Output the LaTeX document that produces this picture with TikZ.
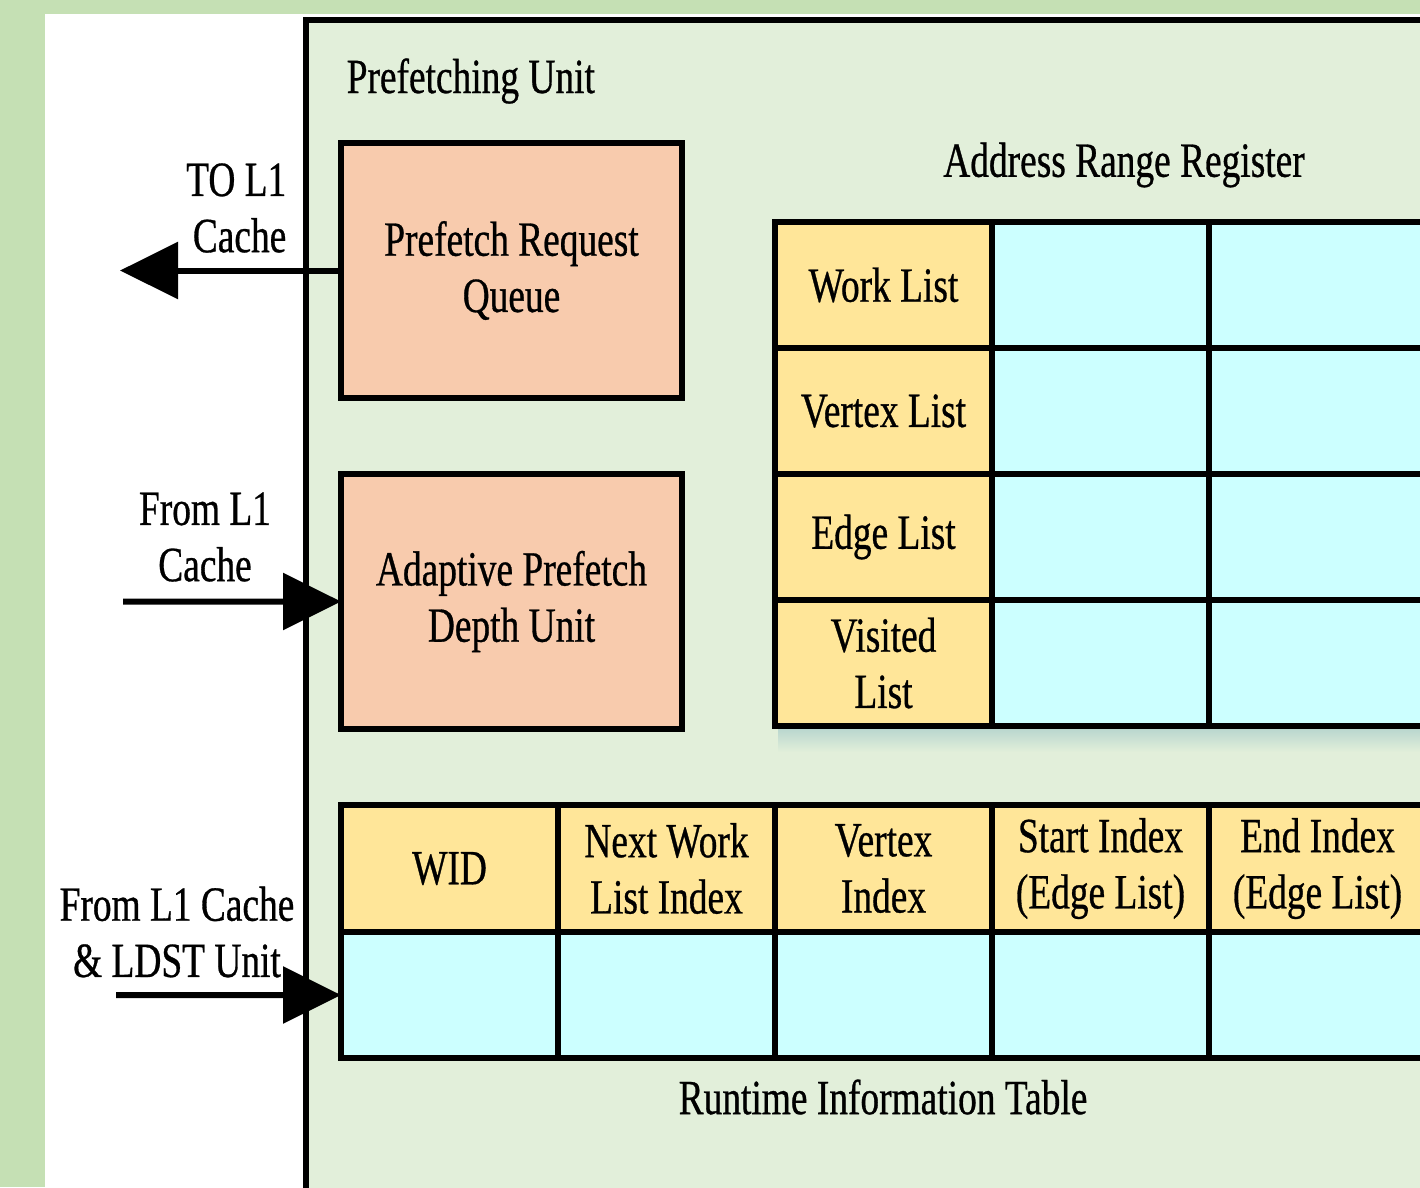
\documentclass[tikz,border=0pt]{standalone}
\usepackage{fontspec}
\setmainfont{Liberation Serif}[FakeStretch=0.76, FakeBold=0.6]
\usetikzlibrary{arrows.meta,positioning}

\definecolor{outergreen}{HTML}{C5E0B4}
\definecolor{unitgreen}{HTML}{E2EFDA}
\definecolor{peach}{HTML}{F8CBAD}
\definecolor{fieldyellow}{HTML}{FFE699}
\definecolor{entrycyan}{HTML}{CCFFFF}

\begin{document}
\begin{tikzpicture}[
    x=0.1mm, y=-0.1mm,
    font=\fontsize{14pt}{16pt}\selectfont,
    unitbox/.style={draw, line width=0.65mm, fill=unitgreen},
    block/.style={rectangle, draw, line width=0.65mm, fill=peach, minimum width=34.1mm, minimum height=25.5mm, align=center, outer sep=0pt},
    field/.style={rectangle, draw, line width=0.65mm, fill=fieldyellow, minimum width=21.7mm, minimum height=12.6mm, align=center, inner sep=0pt, outer sep=0pt},
    entry/.style={field, fill=entrycyan},
    arr/.style={-{Triangle[length=5.8mm, width=5.6mm]}, line width=0.6mm},
    lbl/.style={align=center, inner sep=0pt}
]
\useasboundingbox (0,0) rectangle (1420,1187);
\clip (0,0) rectangle (1420,1187);
\fill[outergreen] (0,0) rectangle (1420,1187);
\fill[white] (45,14) rectangle (1420,1187);
\draw[unitbox] (306,20) rectangle (1480,1240);
\node[lbl, anchor=west] (title) at (346,81) {Prefetching Unit};

% prefetch blocks
\node[block] (prq) at (511.5,270.5) {Prefetch Request\\Queue};
\node[block, below=7.6mm of prq] (apdu) {Adaptive Prefetch\\Depth Unit};

% address range register
\node[lbl] (arrtitle) at (1124,165) {Address Range Register};
\shade[top color=black!22!entrycyan!60!unitgreen, bottom color=unitgreen] (778,729) rectangle (1420,752);
\node[field, anchor=north west] (work) at (775,222) {Work List};
\node[entry, right=0pt of work] (workA) {};
\node[entry, right=0pt of workA] (workB) {};
\node[field, below=0pt of work] (vertex) {Vertex List};
\node[entry, right=0pt of vertex] (vertexA) {};
\node[entry, right=0pt of vertexA] (vertexB) {};
\node[field, below=0pt of vertex] (edge) {Edge List};
\node[entry, right=0pt of edge] (edgeA) {};
\node[entry, right=0pt of edgeA] (edgeB) {};
\node[field, below=0pt of edge] (visited) {Visited\\List};
\node[entry, right=0pt of visited] (visitedA) {};
\node[entry, right=0pt of visitedA] (visitedB) {};

% runtime information table
\node[field, anchor=north west, minimum height=12.7mm] (wid) at (341,805) {WID};
\node[field, right=0pt of wid, minimum height=12.7mm] (nextwl) {Next Work\\List Index};
\node[field, right=0pt of nextwl, minimum height=12.7mm] (vidx) {Vertex\\Index};
\node[field, right=0pt of vidx, minimum height=12.7mm] (sidx) {Start Index\\(Edge List)};
\node[field, right=0pt of sidx, minimum height=12.7mm] (eidx) {End Index\\(Edge List)};
\node[entry, below=0pt of wid] (widval) {};
\node[entry, below=0pt of nextwl] (nextwlval) {};
\node[entry, below=0pt of vidx] (vidxval) {};
\node[entry, below=0pt of sidx] (sidxval) {};
\node[entry, below=0pt of eidx] (eidxval) {};
\node[lbl] (rttitle) at (883,1097) {Runtime Information Table};

% L1 / LDST ports
\node[lbl, align=right, anchor=east] (tol1) at (287,208) {TO L1\\Cache};
\coordinate (tol1end) at (120,270.5);
\draw[arr] (prq.west) -- (tol1end);

\node[lbl] (froml1) at (205,537) {From L1\\Cache};
\coordinate (froml1start) at (123,601.5);
\draw[arr] (froml1start) -- (apdu.west);

\node[lbl] (fromldst) at (177,932) {From L1 Cache\\\& LDST Unit};
\coordinate (fromldststart) at (116,995);
\draw[arr] (fromldststart) -- (widval.west);
\end{tikzpicture}
\end{document}
